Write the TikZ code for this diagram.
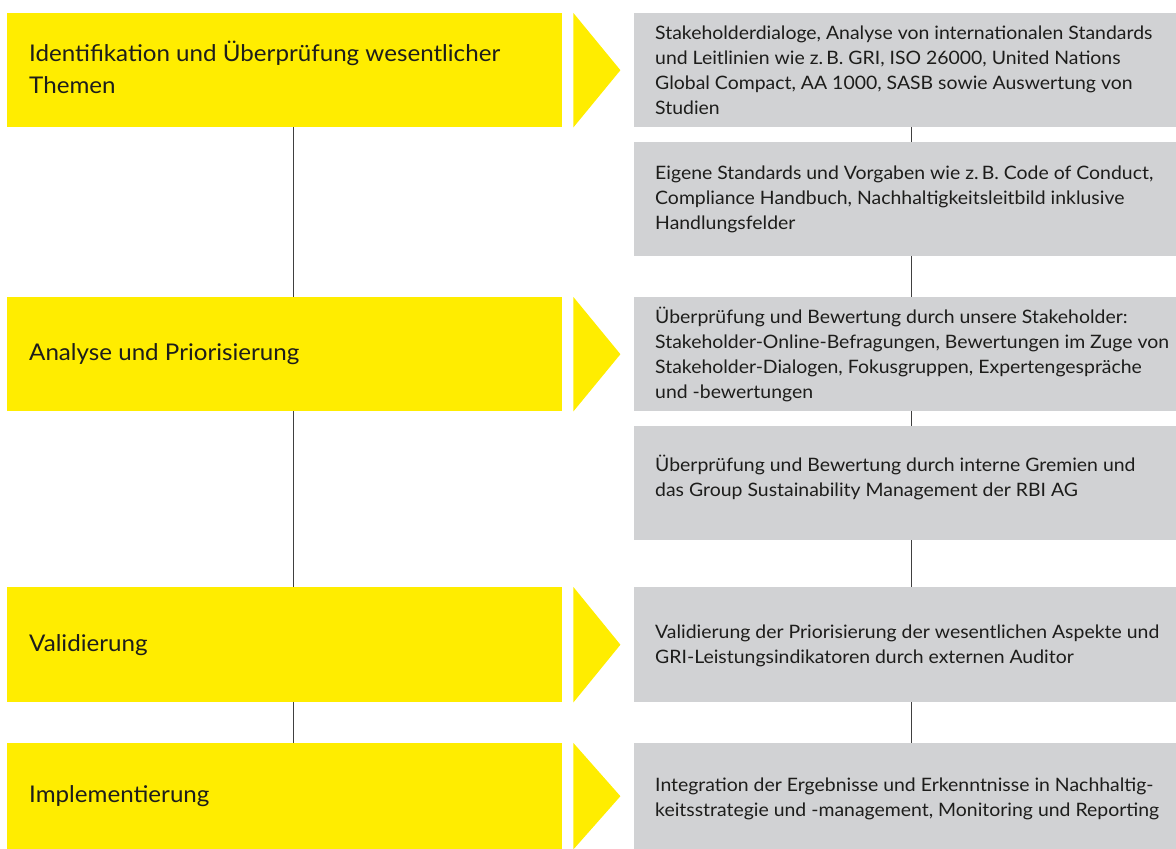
\documentclass[tikz,border=0pt]{standalone}
\usepackage{fontspec}
\setmainfont{Lato}[FakeStretch=1.05]
\definecolor{ylw}{HTML}{FFED00}
\definecolor{gry}{HTML}{D1D2D4}
\definecolor{txt}{HTML}{1D1D1B}
\begin{document}
\begin{tikzpicture}[x=1pt,y=-1pt,
  ybox/.style={fill=ylw, draw=none, minimum width=555pt, inner sep=0pt, anchor=north west},
  gbox/.style={fill=gry, draw=none, minimum width=542pt, inner sep=0pt, anchor=north west},
  ytext/.style={anchor=west, inner sep=0pt, align=left, font=\fontsize{23}{32}\selectfont, text=txt},
  gtext/.style={anchor=west, inner sep=0pt, align=left, font=\fontsize{18.5}{25}\selectfont, text=txt},
  link/.style={draw=black!75, line width=0.8pt},
  arrowtri/.style={fill=ylw}]
\useasboundingbox (0,0) rectangle (1176,849);
\coordinate (lx) at (293,0);
\coordinate (rx) at (911,0);
% yellow boxes
\node[ybox, minimum height=114pt] (y1) at (7,13) {};
\node[ybox, minimum height=114pt] (y2) at (7,297) {};
\node[ybox, minimum height=115pt] (y3) at (7,587) {};
\node[ybox, minimum height=106pt] (y4) at (7,743) {};
% gray boxes
\node[gbox, minimum height=114pt] (g1) at (634,13) {};
\node[gbox, minimum height=114pt] (g2) at (634,142) {};
\node[gbox, minimum height=114pt] (g3) at (634,297) {};
\node[gbox, minimum height=114pt] (g4) at (634,426) {};
\node[gbox, minimum height=115pt] (g5) at (634,587) {};
\node[gbox, minimum height=106pt] (g6) at (634,743) {};
% triangles
\foreach \b in {y1,y2,y3,y4}{
  \path[arrowtri] ([xshift=11pt]\b.north east) -- ([xshift=58pt]\b.east) -- ([xshift=11pt]\b.south east) -- cycle;
}
% yellow texts
\node[ytext] (y1t) at ([xshift=22pt,yshift=3pt]y1.west) {Identifikation und Überprüfung wesentlicher\\Themen};
\node[ytext] (y2t) at ([xshift=22pt]y2.west) {Analyse und Priorisierung};
\node[ytext] (y3t) at ([xshift=22pt]y3.west) {Validierung};
\node[ytext] (y4t) at ([xshift=22pt]y4.west) {Implementierung};
% gray texts
\node[gtext] (g1t) at ([xshift=21pt]g1.west) {Stakeholderdialoge, Analyse von internationalen Standards\\und Leitlinien wie z.\,B. GRI, ISO 26000, United Nations\\Global Compact, AA 1000, SASB sowie Auswertung von\\Studien};
\node[gtext] (g2t) at ([xshift=21pt]g2.west) {Eigene Standards und Vorgaben wie z.\,B. Code of Conduct,\\Compliance Handbuch, Nachhaltigkeitsleitbild inklusive\\Handlungsfelder};
\node[gtext] (g3t) at ([xshift=21pt]g3.west) {Überprüfung und Bewertung durch unsere Stakeholder:\\Stakeholder-Online-Befragungen, Bewertungen im Zuge von\\Stakeholder-Dialogen, Fokusgruppen, Expertengespräche\\und -bewertungen};
\node[gtext] (g4t) at ([xshift=21pt,yshift=6pt]g4.west) {Überprüfung und Bewertung durch interne Gremien und\\das Group Sustainability Management der RBI AG};
\node[gtext] (g5t) at ([xshift=21pt,yshift=-1pt]g5.west) {Validierung der Priorisierung der wesentlichen Aspekte und\\GRI-Leistungsindikatoren durch externen Auditor};
\node[gtext] (g6t) at ([xshift=21pt,yshift=-3pt]g6.west) {Integration der Ergebnisse und Erkenntnisse in Nachhaltig-\\keitsstrategie und -management, Monitoring und Reporting};
% connectors
\draw[link] (y1.south -| lx) -- (y2.north -| lx);
\draw[link] (y2.south -| lx) -- (y3.north -| lx);
\draw[link] (y3.south -| lx) -- (y4.north -| lx);
\draw[link] (g1.south -| rx) -- (g2.north -| rx);
\draw[link] (g2.south -| rx) -- (g3.north -| rx);
\draw[link] (g3.south -| rx) -- (g4.north -| rx);
\draw[link] (g4.south -| rx) -- (g5.north -| rx);
\draw[link] (g5.south -| rx) -- (g6.north -| rx);
\end{tikzpicture}
\end{document}
